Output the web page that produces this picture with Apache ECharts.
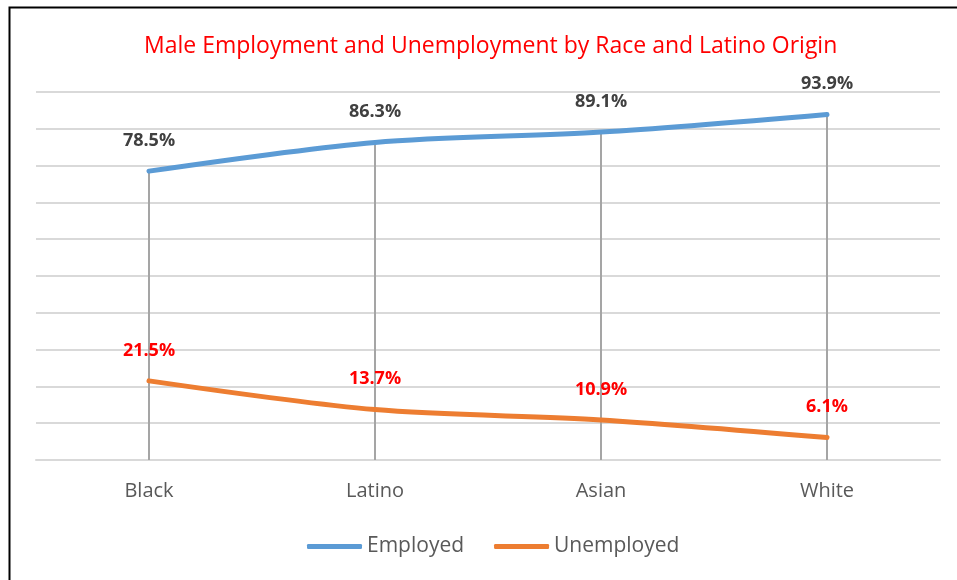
<!DOCTYPE html>
<html><head><meta charset="utf-8">
<script src="https://cdn.jsdelivr.net/npm/echarts@6/dist/echarts.min.js"></script>
<style>html,body{margin:0;padding:0;background:#fff}#c{width:957px;height:580px}</style>
</head><body><div id="c"></div>
<script>
var categories = ['Black', 'Latino', 'Asian', 'White'];
var employed = [78.5, 86.3, 89.1, 93.9];
var unemployed = [21.5, 13.7, 10.9, 6.1];
var titleText = 'Male Employment and Unemployment by Race and Latino Origin';
var FONT = '"Open Sans", "Noto Sans", sans-serif';

var chart = echarts.init(document.getElementById('c'));
chart.setOption({
  animation: false,
  backgroundColor: '#fff',
  graphic: [{
    type: 'rect', left: 7, top: 5, shape: {width: 1000, height: 700},
    style: {fill: 'none', stroke: '#000', lineWidth: 2}, silent: true, z: 100
  }],
  title: {
    text: titleText, left: 139, top: 30,
    textStyle: {color: '#ff0000', fontSize: 23, fontWeight: 'normal', fontFamily: FONT}
  },
  legend: {
    bottom: 18, left: 302, itemWidth: 55, itemHeight: 5, itemGap: 30,
    icon: 'roundRect',
    textStyle: {color: '#595959', fontSize: 21, fontFamily: FONT},
    data: ['Employed', 'Unemployed']
  },
  grid: {left: 36, right: 17, top: 92, bottom: 120, containLabel: false},
  xAxis: {
    type: 'category', data: categories, boundaryGap: true,
    axisLine: {show: true, lineStyle: {color: '#d9d9d9', width: 2}},
    axisTick: {show: false},
    axisLabel: {color: '#595959', fontSize: 20, fontFamily: FONT, margin: 21}
  },
  yAxis: {
    type: 'value', min: 0, max: 100, interval: 10,
    axisLine: {show: false}, axisTick: {show: false}, axisLabel: {show: false},
    splitLine: {lineStyle: {color: '#d9d9d9', width: 2}}
  },
  series: [
    {
      name: 'drop', type: 'bar', data: employed, barWidth: 2, z: 1,
      itemStyle: {color: '#a5a5a5'}, silent: true, legendHoverLink: false
    },
    {
      name: 'Employed', type: 'line', data: employed, smooth: 0.3, z: 3,
      symbol: 'circle', symbolSize: 1, showSymbol: true,
      lineStyle: {color: '#5b9bd5', width: 5, cap: 'round'},
      itemStyle: {color: '#5b9bd5'},
      label: {show: true, position: 'top', distance: 21, formatter: function(p){return p.value.toFixed(1)+'%';},
        color: '#404040', fontSize: 18, fontWeight: 'bold', fontFamily: FONT}
    },
    {
      name: 'Unemployed', type: 'line', data: unemployed, smooth: 0.3, z: 3,
      symbol: 'circle', symbolSize: 1, showSymbol: true,
      lineStyle: {color: '#ed7d31', width: 5, cap: 'round'},
      itemStyle: {color: '#ed7d31'},
      label: {show: true, position: 'top', distance: 21, formatter: function(p){return p.value.toFixed(1)+'%';},
        color: '#ff0000', fontSize: 18, fontWeight: 'bold', fontFamily: FONT}
    }
  ]
});
</script></body></html>
